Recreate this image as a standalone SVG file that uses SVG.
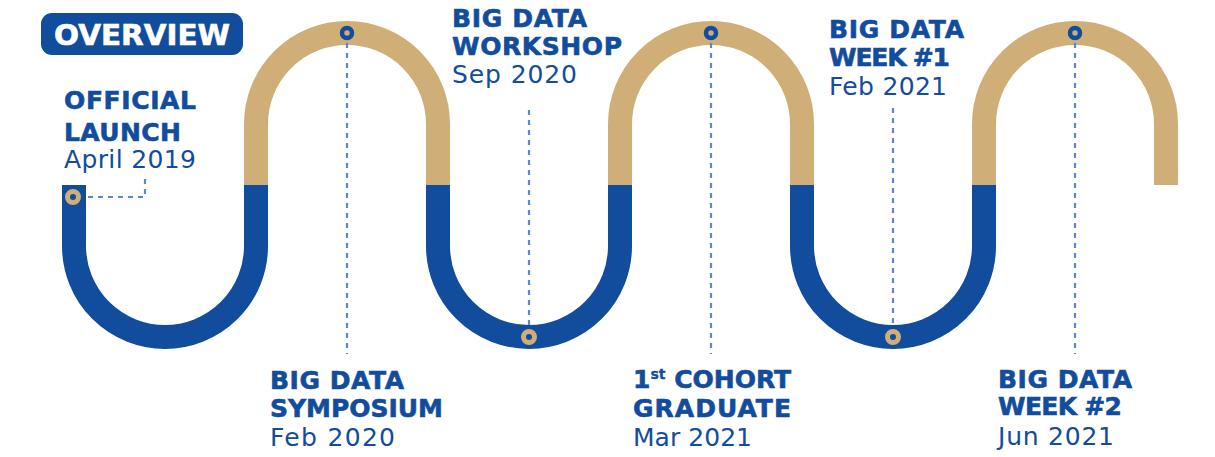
<svg xmlns="http://www.w3.org/2000/svg" width="1215" height="457" viewBox="0 0 1215 457">
<style>
.gold{fill:none;stroke:#CFAE78;stroke-width:24;stroke-linecap:butt}
.blue{fill:none;stroke:#124C9D;stroke-width:24;stroke-linecap:butt}
.rb{fill:none;stroke:#124C9D;stroke-width:4.5}
.rg{fill:none;stroke:#CFAE78;stroke-width:5}
.dash{fill:none;stroke:#5B88C6;stroke-width:2.2;stroke-dasharray:5 5}
.h{font-family:"DejaVu Sans",sans-serif;font-weight:bold;font-size:25px;fill:#124C9D;stroke:#124C9D;stroke-width:0.6}
.d{font-family:"DejaVu Sans",sans-serif;font-size:25px;fill:#124C9D}
.sup{font-size:14px;stroke-width:0.3}
</style>
<rect width="1215" height="457" fill="#fff"/>
<g id="track">
<path class="blue" d="M74,185 V246 A91,91 0 0 0 256,246 V185"/>
<path class="blue" d="M438,185 V246 A91,91 0 0 0 620,246 V185"/>
<path class="blue" d="M802,185 V246 A91,91 0 0 0 984,246 V185"/>
<path class="gold" d="M256,185 V124 A91,91 0 0 1 438,124 V185"/>
<path class="gold" d="M620,185 V124 A91,91 0 0 1 802,124 V185"/>
<path class="gold" d="M984,185 V124 A91,91 0 0 1 1166,124 V185"/>
</g>
<g id="connectors">
<path class="dash" d="M88,197 H145 V175"/>
<path class="dash" d="M347,43 V354"/>
<path class="dash" d="M711,43 V354"/>
<path class="dash" d="M1075,43 V354"/>
<path class="dash" d="M529,110 V326"/>
<path class="dash" d="M893,108 V326"/>
</g>
<g id="overview">
<rect x="41" y="13" width="202" height="42" rx="11" fill="#124C9D"/>
<text x="54" y="45" font-family="DejaVu Sans,sans-serif" font-weight="bold" font-size="28" fill="#fff" stroke="#fff" stroke-width="0.6" textLength="176" lengthAdjust="spacingAndGlyphs">OVERVIEW</text>
</g>
<g id="official-launch">
<circle class="rg" cx="73" cy="197" r="5.5"/>
<text class="h" x="64" y="109" textLength="132">OFFICIAL</text>
<text class="h" x="64" y="141" textLength="117">LAUNCH</text>
<text class="d" x="64" y="168" textLength="132">April 2019</text>
</g>
<g id="symposium">
<circle class="rb" cx="347" cy="33" r="5"/>
<text class="h" x="270" y="389" textLength="134">BIG DATA</text>
<text class="h" x="270" y="417" textLength="173">SYMPOSIUM</text>
<text class="d" x="270" y="446" textLength="125">Feb 2020</text>
</g>
<g id="workshop">
<circle class="rg" cx="529" cy="337" r="5.5"/>
<text class="h" x="452" y="27" textLength="135">BIG DATA</text>
<text class="h" x="452" y="55" textLength="170">WORKSHOP</text>
<text class="d" x="452" y="83" textLength="125">Sep 2020</text>
</g>
<g id="cohort">
<circle class="rb" cx="711" cy="33" r="5"/>
<text class="h" x="633" y="388">1<tspan class="sup" dy="-9">st</tspan><tspan dy="9"> COHORT</tspan></text>
<text class="h" x="633" y="417" textLength="158">GRADUATE</text>
<text class="d" x="633" y="446" textLength="119">Mar 2021</text>
</g>
<g id="week1">
<circle class="rg" cx="893" cy="337" r="5.5"/>
<text class="h" x="829" y="38" textLength="135">BIG DATA</text>
<text class="h" x="829" y="66" textLength="121">WEEK #1</text>
<text class="d" x="829" y="95" textLength="118">Feb 2021</text>
</g>
<g id="week2">
<circle class="rb" cx="1075" cy="33" r="5"/>
<text class="h" x="998" y="388" textLength="134">BIG DATA</text>
<text class="h" x="998" y="415" textLength="124">WEEK #2</text>
<text class="d" x="998" y="445" textLength="116">Jun 2021</text>
</g>
</svg>
